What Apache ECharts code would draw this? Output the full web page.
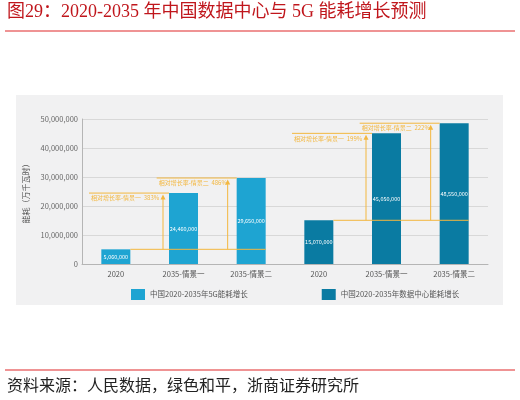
<!DOCTYPE html>
<html>
<head>
<meta charset="utf-8">
<script src="https://cdn.jsdelivr.net/npm/echarts@6/dist/echarts.min.js"></script>
<style>html,body{margin:0;padding:0;background:#fff}#c{width:520px;height:400px}</style>
</head>
<body>
<div id="c"></div>
<script>
const categories = ['2020', '2035-情景一', '2035-情景二', '2020', '2035-情景一', '2035-情景二'];
const fiveGValues = [5060000, 24460000, 29650000];
const dcValues = [15070000, 45050000, 48550000];
const fiveGGrowth = ['383%', '486%'];
const dcGrowth = ['199%', '222%'];
const seriesNames = ['中国2020-2035年5G能耗增长', '中国2020-2035年数据中心能耗增长'];
const yTicks = [0, 10000000, 20000000, 30000000, 40000000, 50000000];

const FONT = '"Noto Sans CJK SC", "Noto Sans", sans-serif';
const gold = '#f3b73f';
const c5g = '#1ea4d2';
const cdc = '#0a7ba2';
const hw = 14.5;

const fiveGData = categories.map((c, i) => i < 3 ? fiveGValues[i] : '-');
const dcData = categories.map((c, i) => i >= 3 ? dcValues[i - 3] : '-');

const chart = echarts.init(document.getElementById('c'));

const staticGraphics = [
  { type: 'rect', z: -5, shape: { x: 16, y: 95, width: 487, height: 210 }, style: { fill: '#f1f1f2' } },
  { type: 'text', z: 5, left: 7, top: 3, style: { text: '图29：2020-2035 年中国数据中心与 5G 能耗增长预测', fill: '#c0161c', font: '18px "Liberation Serif", "Noto Sans CJK SC", serif' } },
  { type: 'line', z: 5, shape: { x1: 5, y1: 31, x2: 515, y2: 31 }, style: { stroke: '#e0292b', lineWidth: 1.2 } },
  { type: 'line', z: 5, shape: { x1: 5, y1: 370, x2: 515, y2: 370 }, style: { stroke: '#e0292b', lineWidth: 1.2 } },
  { type: 'text', z: 5, left: 7, top: 377, style: { text: '资料来源：人民数据，绿色和平，浙商证券研究所', fill: '#222', font: '16px "Noto Sans CJK SC", serif' } }
];

const labelOpt = { show: true, position: 'inside', color: '#fff', fontSize: 5.5, fontFamily: FONT, formatter: p => p.value.toLocaleString('en-US') };

chart.setOption({
  animation: false,
  backgroundColor: '#fff',
  grid: { left: 82, right: 32, top: 119, bottom: 136 },
  legend: {
    left: 126, top: 284, itemWidth: 14, itemHeight: 11, itemGap: 74,
    icon: 'rect',
    textStyle: { fontSize: 7.5, color: '#555', fontFamily: FONT },
    data: seriesNames
  },
  xAxis: {
    type: 'category', data: categories,
    axisLine: { lineStyle: { color: '#b5b5b5' } },
    axisTick: { show: false },
    axisLabel: { fontSize: 7.5, color: '#555', fontFamily: FONT, margin: 6, interval: 0 }
  },
  yAxis: {
    type: 'value', min: 0, max: 50000000, interval: 10000000,
    name: '能耗（万千瓦时）', nameLocation: 'middle', nameGap: 50, nameRotate: 90,
    nameTextStyle: { fontSize: 8, color: '#555', fontFamily: FONT },
    axisLine: { show: true, lineStyle: { color: '#b5b5b5' } },
    axisTick: { show: false },
    splitLine: { lineStyle: { color: '#d8d8d8' } },
    axisLabel: { fontSize: 7.5, color: '#666', fontFamily: FONT, margin: 4, formatter: v => yTicks.includes(v) ? v.toLocaleString('en-US') : '' }
  },
  series: [
    { name: seriesNames[0], type: 'bar', stack: 'all', barWidth: 29, data: fiveGData, itemStyle: { color: c5g }, label: labelOpt },
    { name: seriesNames[1], type: 'bar', stack: 'all', barWidth: 29, data: dcData, itemStyle: { color: cdc }, label: labelOpt }
  ],
  graphic: staticGraphics
});

function px(i, v) { return chart.convertToPixel({ xAxisIndex: 0, yAxisIndex: 0 }, [i, v]); }

const ann = [];
function group(off, values, growth) {
  const base = px(off, values[0]);
  const s2 = px(off + 2, values[2]);
  ann.push({ type: 'line', z: 20, shape: { x1: base[0] + hw, y1: base[1], x2: s2[0] + hw, y2: base[1] }, style: { stroke: gold, lineWidth: 1 } });
  [1, 2].forEach(k => {
    const p = px(off + k, values[k]);
    const left = p[0] - hw;
    const ax = left - (k === 1 ? 6 : 9);
    ann.push({ type: 'line', z: 20, shape: { x1: ax, y1: base[1], x2: ax, y2: p[1] + 4 }, style: { stroke: gold, lineWidth: 1 } });
    ann.push({ type: 'polygon', z: 20, shape: { points: [[ax, p[1] + 1.5], [ax - 2.5, p[1] + 6.5], [ax + 2.5, p[1] + 6.5]] }, style: { fill: gold } });
    ann.push({ type: 'line', z: 20, shape: { x1: left - 80, y1: p[1], x2: left, y2: p[1] }, style: { stroke: gold, lineWidth: 1 } });
    ann.push({ type: 'text', z: 20, x: left - 78, y: p[1] + 2, style: { text: '相对增长率-情景' + (k === 1 ? '一' : '二') + '  ' + growth[k - 1], fill: gold, font: '6px ' + FONT, verticalAlign: 'top' } });
  });
}
group(0, fiveGValues, fiveGGrowth);
group(3, dcValues, dcGrowth);

chart.setOption({ graphic: staticGraphics.concat(ann) }, { replaceMerge: ['graphic'] });
</script>
</body>
</html>
